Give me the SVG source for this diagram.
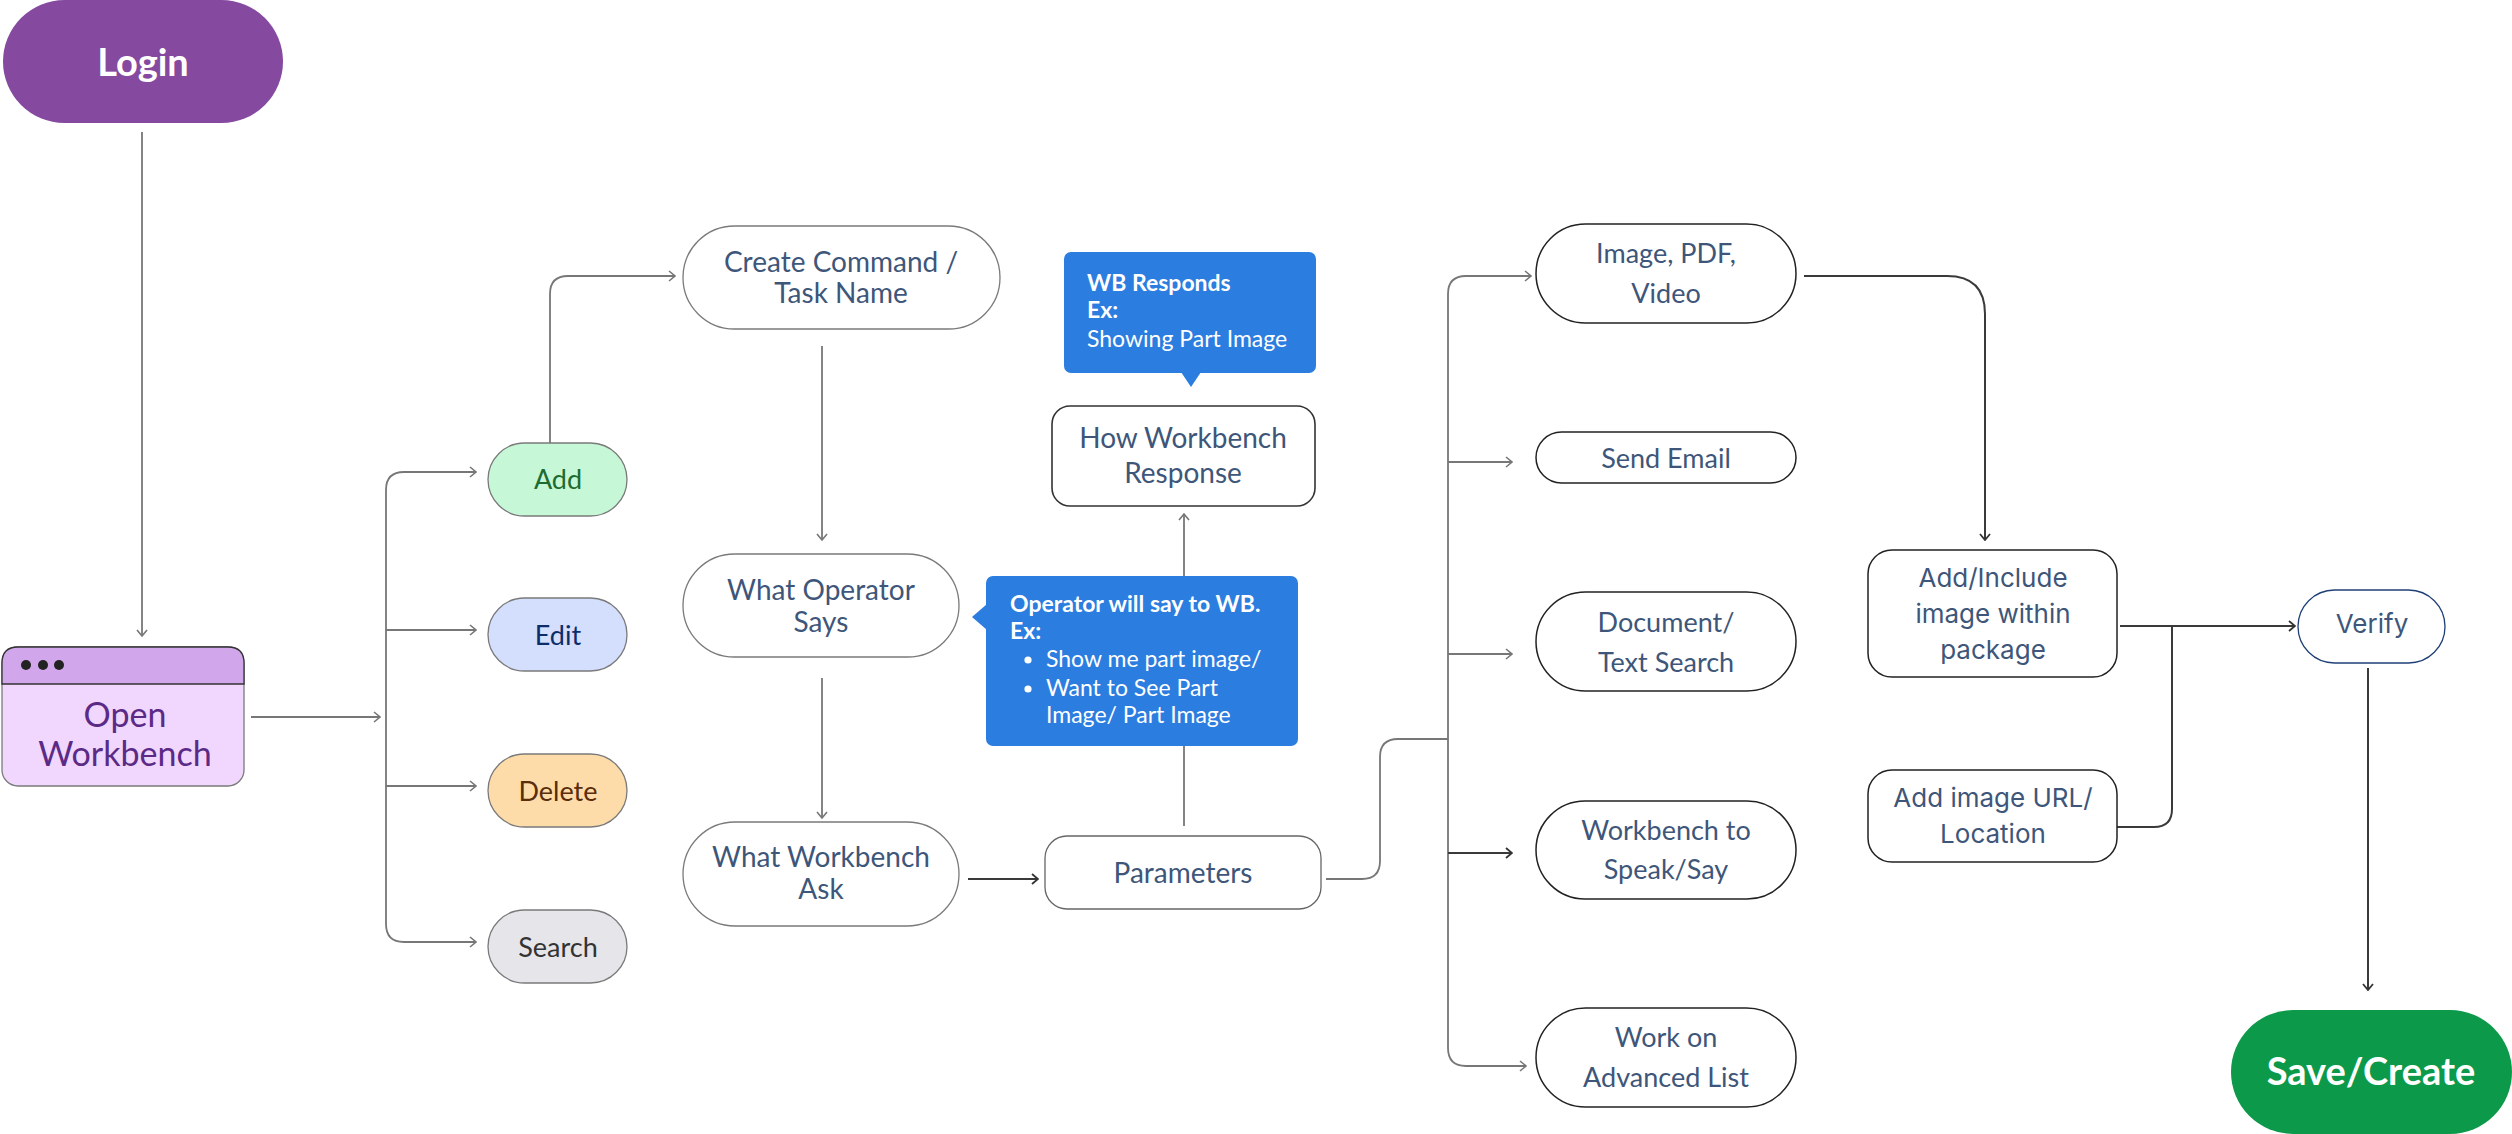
<svg xmlns="http://www.w3.org/2000/svg" width="2512" height="1134" viewBox="0 0 2512 1134">
<style>
.lbl{font-family:Lato,"Liberation Sans",sans-serif;font-size:28px;fill:#3E5679;text-anchor:middle}
.lblr{font-family:Lato,"Liberation Sans",sans-serif;font-size:27px;fill:#3E5679;text-anchor:middle}
.lbli{font-family:Inter,"Liberation Sans",sans-serif;font-size:26px;fill:#3E5679;text-anchor:middle}
.small{font-family:Lato,"Liberation Sans",sans-serif;font-size:27px;text-anchor:middle}
.big{font-family:Lato,"Liberation Sans",sans-serif;font-size:38px;font-weight:bold;fill:#fff;text-anchor:middle}
.call{font-family:Lato,"Liberation Sans",sans-serif;font-size:23px;fill:#fff}
.b{font-weight:bold}
.pill{fill:#fff;stroke:#7a7a7a;stroke-width:1.3}
.pillD{fill:#fff;stroke:#222;stroke-width:1.5}
.cg{fill:none;stroke:#777;stroke-width:1.8}
.cd{fill:none;stroke:#3a3a3a;stroke-width:2}
</style>
<defs>
<marker id="ag" markerUnits="userSpaceOnUse" viewBox="0 0 8 12" refX="7" refY="6" markerWidth="8" markerHeight="12" orient="auto">
<path d="M1,1 L7,6 L1,11" fill="none" stroke="#777" stroke-width="1.6"/>
</marker>
<marker id="ad" markerUnits="userSpaceOnUse" viewBox="0 0 8 12" refX="7" refY="6" markerWidth="8" markerHeight="12" orient="auto">
<path d="M1,1 L7,6 L1,11" fill="none" stroke="#333" stroke-width="1.8"/>
</marker>
</defs>
<rect width="2512" height="1134" fill="#fff"/>

<g id="connectors">
<path class="cg" d="M142,132 V636" marker-end="url(#ag)"/>
<path class="cg" d="M251,717 H380" marker-end="url(#ag)"/>
<path class="cg" d="M386,700 V490 Q386,472 404,472 H476" marker-end="url(#ag)"/>
<path class="cg" d="M386,700 V924 Q386,942 404,942 H476" marker-end="url(#ag)"/>
<path class="cg" d="M386,630 H476" marker-end="url(#ag)"/>
<path class="cg" d="M386,786 H476" marker-end="url(#ag)"/>
<path class="cg" d="M550,443 V294 Q550,276 568,276 H675" marker-end="url(#ag)"/>
<path class="cg" d="M822,346 V540" marker-end="url(#ag)"/>
<path class="cg" d="M822,678 V818" marker-end="url(#ag)"/>
<path class="cd" d="M968,879 H1038" marker-end="url(#ad)"/>
<path class="cg" d="M1184,826 V514" marker-end="url(#ag)"/>
<path class="cg" d="M1326,879 H1362 Q1380,879 1380,861 V757 Q1380,739 1398,739 H1448"/>
<path class="cg" d="M1448,700 V294 Q1448,276 1466,276 H1531" marker-end="url(#ag)"/>
<path class="cg" d="M1448,700 V1048 Q1448,1066 1466,1066 H1526" marker-end="url(#ag)"/>
<path class="cg" d="M1448,462 H1512" marker-end="url(#ag)"/>
<path class="cg" d="M1448,654 H1512" marker-end="url(#ag)"/>
<path class="cd" d="M1448,853 H1512" marker-end="url(#ad)"/>
<path class="cd" d="M1804,276 H1947 Q1985,276 1985,314 V540" marker-end="url(#ad)"/>
<path class="cd" d="M2120,626 H2295" marker-end="url(#ad)"/>
<path class="cd" d="M2117,827 H2154 Q2172,827 2172,809 V626"/>
<path class="cd" d="M2368,668 V990" marker-end="url(#ad)"/>
</g>

<g id="login">
<rect x="3" y="0" width="280" height="123" rx="61.5" fill="#8549A0"/>
<text class="big" x="143" y="76">Login</text>
</g>

<g id="open-workbench">
<rect x="2" y="647" width="242" height="139" rx="16" fill="#F1D7FE" stroke="#7a7a7a" stroke-width="1.3"/>
<path d="M2,684 V663 Q2,647 18,647 H228 Q244,647 244,663 V684 Z" fill="#D2A6EA" stroke="#333" stroke-width="1.3"/>
<circle cx="26" cy="665" r="5" fill="#222"/>
<circle cx="43" cy="665" r="5" fill="#222"/>
<circle cx="59" cy="665" r="5" fill="#222"/>
<text x="125" y="727" font-family="Lato,'Liberation Sans',sans-serif" font-size="34" fill="#5B2A86" text-anchor="middle">Open</text>
<text x="125" y="766" font-family="Lato,'Liberation Sans',sans-serif" font-size="34" fill="#5B2A86" text-anchor="middle">Workbench</text>
</g>

<g id="add">
<rect x="488" y="443" width="139" height="73" rx="36.5" fill="#C6F8D7" stroke="#7a7a7a" stroke-width="1.3"/>
<text class="small" x="558" y="489" fill="#1E6B30">Add</text>
</g>
<g id="edit">
<rect x="488" y="598" width="139" height="73" rx="36.5" fill="#D4DEFD" stroke="#7a7a7a" stroke-width="1.3"/>
<text class="small" x="558" y="645" fill="#0B2E6B">Edit</text>
</g>
<g id="delete">
<rect x="488" y="754" width="139" height="73" rx="36.5" fill="#FDDCAA" stroke="#7a7a7a" stroke-width="1.3"/>
<text class="small" x="558" y="801" fill="#5A2D0B">Delete</text>
</g>
<g id="search">
<rect x="488" y="910" width="139" height="73" rx="36.5" fill="#E5E5EA" stroke="#7a7a7a" stroke-width="1.3"/>
<text class="small" x="558" y="957" fill="#333">Search</text>
</g>

<g id="create-command">
<rect class="pill" x="683" y="226" width="317" height="103" rx="51.5"/>
<text class="lbl" x="841" y="272">Create Command /</text>
<text class="lbl" x="841" y="303">Task Name</text>
</g>
<g id="what-operator-says">
<rect class="pill" x="683" y="554" width="276" height="103" rx="51.5"/>
<text class="lbl" x="821" y="600">What Operator</text>
<text class="lbl" x="821" y="632">Says</text>
</g>
<g id="what-workbench-ask">
<rect class="pill" x="683" y="822" width="276" height="104" rx="52"/>
<text class="lbl" x="821" y="867">What Workbench</text>
<text class="lbl" x="821" y="899">Ask</text>
</g>
<g id="parameters">
<rect x="1045" y="836" width="276" height="73" rx="22" fill="#fff" stroke="#666" stroke-width="1.3"/>
<text class="lbl" x="1183" y="883">Parameters</text>
</g>
<g id="how-workbench-response">
<rect x="1052" y="406" width="263" height="100" rx="18" fill="#fff" stroke="#333" stroke-width="1.6"/>
<text class="lbl" x="1183" y="448">How Workbench</text>
<text class="lbl" x="1183" y="483">Response</text>
</g>

<g id="wb-responds-callout">
<rect x="1064" y="252" width="252" height="121" rx="7" fill="#2B7DE0"/>
<path d="M1181,372 L1191,387 L1201,372 Z" fill="#2B7DE0"/>
<text class="call b" x="1087" y="291">WB Responds</text>
<text class="call b" x="1087" y="318">Ex:</text>
<text class="call" x="1087" y="347">Showing Part Image</text>
</g>

<g id="operator-callout">
<rect x="986" y="576" width="312" height="170" rx="7" fill="#2B7DE0"/>
<path d="M987,604 L972,617 L987,630 Z" fill="#2B7DE0"/>
<text class="call b" x="1010" y="612">Operator will say to WB.</text>
<text class="call b" x="1010" y="639">Ex:</text>
<circle cx="1028" cy="660" r="3.6" fill="#fff"/>
<text class="call" x="1046" y="667">Show me part image/</text>
<circle cx="1028" cy="689" r="3.6" fill="#fff"/>
<text class="call" x="1046" y="696">Want to See Part</text>
<text class="call" x="1046" y="723">Image/ Part Image</text>
</g>

<g id="image-pdf-video">
<rect class="pillD" x="1536" y="224" width="260" height="99" rx="49.5"/>
<text class="lblr" x="1666" y="263">Image, PDF,</text>
<text class="lblr" x="1666" y="303">Video</text>
</g>
<g id="send-email">
<rect class="pillD" x="1536" y="432" width="260" height="51" rx="25.5"/>
<text class="lblr" x="1666" y="468">Send Email</text>
</g>
<g id="document-text-search">
<rect class="pillD" x="1536" y="592" width="260" height="99" rx="49.5"/>
<text class="lblr" x="1666" y="632">Document/</text>
<text class="lblr" x="1666" y="672">Text Search</text>
</g>
<g id="workbench-speak">
<rect class="pillD" x="1536" y="801" width="260" height="98" rx="49"/>
<text class="lblr" x="1666" y="840">Workbench to</text>
<text class="lblr" x="1666" y="879">Speak/Say</text>
</g>
<g id="advanced-list">
<rect class="pillD" x="1536" y="1008" width="260" height="99" rx="49.5"/>
<text class="lblr" x="1666" y="1047">Work on</text>
<text class="lblr" x="1666" y="1087">Advanced List</text>
</g>

<g id="add-include">
<rect x="1868" y="550" width="249" height="127" rx="24" fill="#fff" stroke="#222" stroke-width="1.5"/>
<text class="lbli" x="1993" y="587">Add/Include</text>
<text class="lbli" x="1993" y="623">image within</text>
<text class="lbli" x="1993" y="659">package</text>
</g>
<g id="add-image-url">
<rect x="1868" y="770" width="249" height="92" rx="24" fill="#fff" stroke="#222" stroke-width="1.5"/>
<text class="lbli" x="1993" y="807">Add image URL/</text>
<text class="lbli" x="1993" y="843">Location</text>
</g>
<g id="verify">
<rect x="2298" y="590" width="147" height="73" rx="36.5" fill="#fff" stroke="#1F3F77" stroke-width="1.3"/>
<text class="lbli" x="2372" y="633" font-size="27">Verify</text>
</g>
<g id="save-create">
<rect x="2231" y="1010" width="281" height="124" rx="62" fill="#0C9A4A"/>
<text class="big" x="2371" y="1085">Save/Create</text>
</g>
</svg>
